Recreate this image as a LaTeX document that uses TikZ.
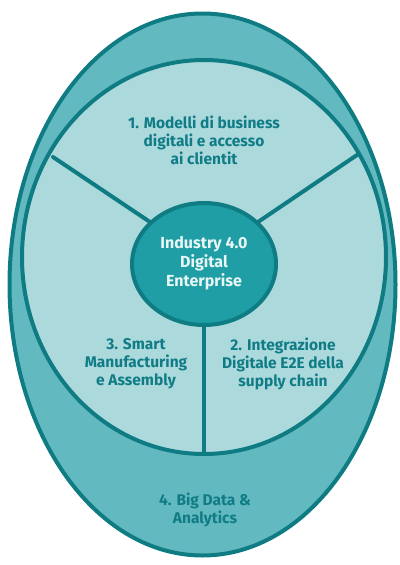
\documentclass[tikz,border=0pt]{standalone}
\usepackage{fontspec}
\setmainfont{Fira Sans}
\usetikzlibrary{shapes.geometric}
\definecolor{darkteal}{HTML}{0F7C84}
\definecolor{bandteal}{HTML}{62B9BF}
\definecolor{lightteal}{HTML}{ACD9DC}
\definecolor{coreteal}{HTML}{1F9EA5}
\definecolor{txtteal}{HTML}{107D86}
\definecolor{coretxt}{HTML}{E8F6F6}
\tikzset{
  rim/.style={draw=darkteal, line width=4pt},
  spoke/.style={draw=darkteal, line width=4pt, line cap=round},
  lbl/.style={text=txtteal, font=\fontsize{15.5}{18}\selectfont\bfseries, align=center, inner sep=0pt},
  corelbl/.style={text=coretxt, font=\fontsize{16}{19}\selectfont\bfseries, align=center, inner sep=0pt}
}
\begin{document}
\begin{tikzpicture}[x=1pt,y=-1pt]
\useasboundingbox (0,0) rectangle (399,565);
% outer band
\path[rim, fill=bandteal] (202.5,284.5) ellipse [x radius=193, y radius=271];
% inner region
\path[rim, fill=lightteal] (204,257) ellipse [x radius=182, y radius=197];
% spoke end points
\coordinate (ul) at (53,157);
\coordinate (ur) at (357,155);
\coordinate (bt) at (204,454);
\coordinate (cul) at (150,222);
\coordinate (cur) at (258,222);
\coordinate (cbt) at (204,300);
\draw[spoke] (ul) -- (cul);
\draw[spoke] (ur) -- (cur);
\draw[spoke] (cbt) -- (bt);
% core
\node[draw=darkteal, line width=4pt, fill=coreteal, ellipse, minimum width=144pt, minimum height=122pt, inner sep=0pt] (core) at (204,264) {};
\node[corelbl] (coretext) at (204,263) {Industry 4.0\\Digital\\Enterprise};
\node[lbl] (t1) at (204,140) {1. Modelli di business\\digitali e accesso\\ai clientit};
\node[lbl] (t3) at (136,364) {3. Smart\\Manufacturing\\e Assembly};
\node[lbl] (t2) at (283,364) {2. Integrazione\\Digitale E2E della\\supply chain};
\node[lbl] (t4) at (205,510) {4. Big Data \&\\Analytics};
\end{tikzpicture}
\end{document}
